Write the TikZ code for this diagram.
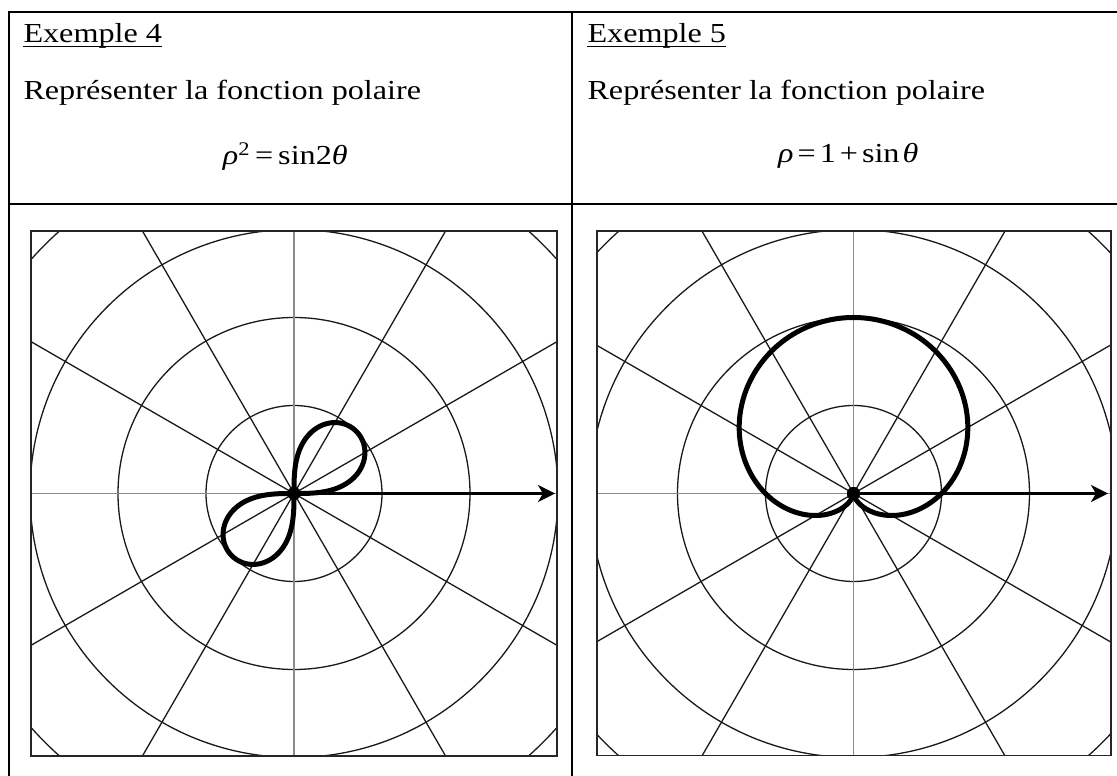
\documentclass[tikz,border=0pt]{standalone}
\usepackage{fontspec}
\setmainfont{Liberation Serif}[FakeStretch=1.17]
\usetikzlibrary{arrows.meta,calc}
\begin{document}
\begin{tikzpicture}[x=1pt,y=1pt,
  tbl/.style={line width=2pt,black},
  txt/.style={inner sep=0pt,anchor=base west,font=\fontsize{27.5}{32}\selectfont},
  uline/.style={line width=1.4pt,black},
  gridline/.style={line width=1.3pt,black!90},
  axisline/.style={line width=1.6pt,black!45},
  plotbox/.style={line width=1.6pt,black!85},
  curve/.style={line width=5pt,black,line join=round,line cap=round},
  polaxis/.style={line width=3pt,black,-{Stealth[length=17pt,width=17pt,inset=5pt]}},
  pole/.style={circle,fill=black,inner sep=0pt,minimum size=13pt}]
\useasboundingbox (0,0) rectangle (1117,776);
% table
\coordinate (tl) at (8.7,763.5);
\coordinate (tr) at (1117,763.5);
\coordinate (bl) at (8.7,0);
\coordinate (ml) at (8.7,572);
\coordinate (mr) at (1117,572);
\coordinate (dt) at (571.7,763.5);
\coordinate (db) at (571.7,0);
\draw[tbl] (bl) -- (tl) -- (tr);
\draw[tbl] (ml) -- (mr);
\draw[tbl] (dt) -- (db);
% texts left
\node[txt] (ex4) at (23.3,733.3) {Exemple 4};
\draw[uline] ([yshift=-4pt]ex4.base west) -- ([yshift=-4pt]ex4.base east);
\node[txt] (rep4) at (23.3,676.5) {Représenter la fonction polaire};
\node[txt] (f4) at (222.7,611) {\textit{ρ}\textsuperscript{2}\hspace{5pt}=\hspace{5pt}sin2\textit{θ}};
% texts right
\node[txt] (ex5) at (587.3,733.3) {Exemple 5};
\draw[uline] ([yshift=-4pt]ex5.base west) -- ([yshift=-4pt]ex5.base east);
\node[txt] (rep5) at (587.3,676.5) {Représenter la fonction polaire};
\node[txt] (f5) at (778,613) {\textit{ρ}\hspace{4pt}=\hspace{4pt}1\hspace{4pt}+\hspace{4pt}sin\hspace{3pt}\textit{θ}};
% left plot
\begin{scope}[shift={(294,282.5)}]
  \begin{scope}
    \clip (-263,-262.5) rectangle (263,262.5);
    \foreach \r in {88,176,264,352} \draw[gridline] (0,0) circle[radius=\r];
    \foreach \a in {30,60,120,150} \draw[gridline] (\a:420) -- (\a+180:420);
    \draw[axisline] (-300,0) -- (300,0);
    \draw[axisline] (0,-300) -- (0,300);
  \end{scope}
  \draw[plotbox] (-263,-262.5) rectangle (263,262.5);
  \draw[curve] plot[domain=0:90,samples=181,smooth]
     ({88*sqrt(abs(sin(2*\x)))*cos(\x)},{88*sqrt(abs(sin(2*\x)))*sin(\x)});
  \draw[curve] plot[domain=0:90,samples=181,smooth]
     ({-88*sqrt(abs(sin(2*\x)))*cos(\x)},{-88*sqrt(abs(sin(2*\x)))*sin(\x)});
  \node[pole] (o4) at (0,0) {};
  \coordinate (e4) at (261,0);
  \draw[polaxis] (o4.center) -- (e4);
  \node[pole] at (0,0) {};
\end{scope}
% right plot
\begin{scope}[shift={(853.5,282.5)}]
  \begin{scope}
    \clip (-256.5,-262) rectangle (257.5,262.5);
    \foreach \r in {88,176,264,352} \draw[gridline] (0,0) circle[radius=\r];
    \foreach \a in {30,60,120,150} \draw[gridline] (\a:420) -- (\a+180:420);
    \draw[axisline] (-300,0) -- (300,0);
    \draw[axisline] (0,-300) -- (0,300);
  \end{scope}
  \draw[plotbox] (-256.5,-262) rectangle (257.5,262.5);
  \draw[curve] plot[domain=-90:270,samples=361,smooth]
     ({88*(1+sin(\x))*cos(\x)},{88*(1+sin(\x))*sin(\x)});
  \node[pole] (o5) at (0,0) {};
  \coordinate (e5) at (254.5,0);
  \draw[polaxis] (o5.center) -- (e5);
  \node[pole] at (0,0) {};
\end{scope}
\end{tikzpicture}
\end{document}
